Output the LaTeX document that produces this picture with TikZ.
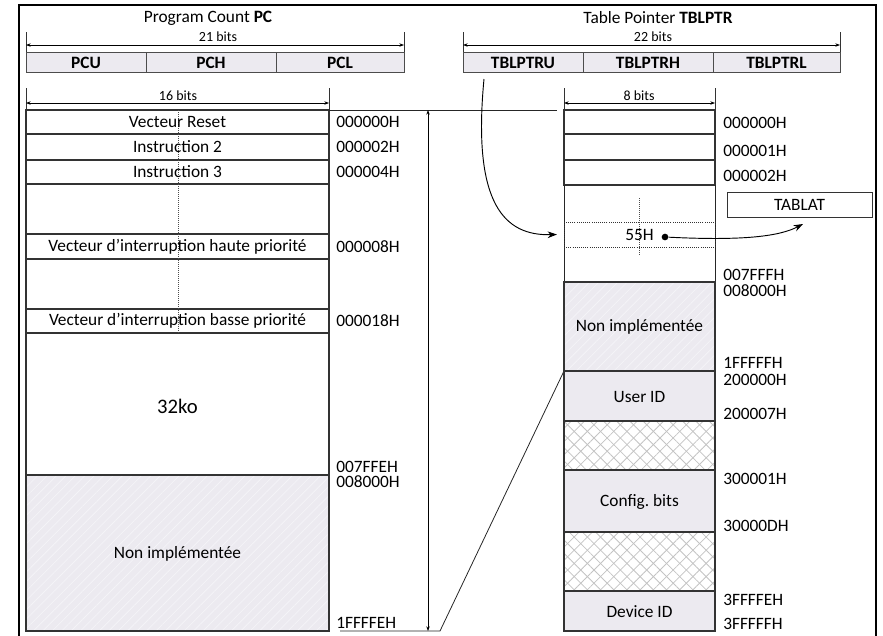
\documentclass[tikz,border=0pt]{standalone}
\usepackage{fontspec}
\setmainfont{Carlito}
\frenchspacing
\usetikzlibrary{arrows.meta,patterns.meta}
\definecolor{memgray}{RGB}{236,234,240}
\definecolor{stripecol}{RGB}{244,243,247}
\definecolor{hatchgray}{RGB}{195,195,195}
\begin{document}
\begin{tikzpicture}[x=0.75pt,y=-0.75pt,
  txt/.style={font=\fontsize{13}{15}\selectfont, inner sep=0pt},
  addr/.style={font=\fontsize{13}{15}\selectfont, inner sep=0pt, anchor=west},
  bitsl/.style={font=\fontsize{10.5}{12}\selectfont, inner sep=0pt},
  reg/.style={draw=black!70, fill=memgray, line width=0.6pt, minimum height=15pt, inner sep=0pt, font=\fontsize{13}{15}\selectfont\bfseries},
  cellline/.style={draw=black!80, line width=0.9pt},
  thinline/.style={draw=black!85, line width=0.6pt},
  dimline/.style={line width=0.5pt, {Stealth[length=3.5pt,width=2.6pt]}-{Stealth[length=3.5pt,width=2.6pt]}},
  ticks/.style={line width=0.6pt, black!80},
  bigarrow/.style={line width=0.7pt, -{Stealth[length=7pt,width=5pt]}},
  stripes/.style={pattern={Lines[angle=45,distance=5pt,line width=0.6pt]}, pattern color=stripecol},
  hatchA/.style={pattern={Lines[angle=45,distance=7pt,line width=0.6pt]}, pattern color=hatchgray},
  hatchB/.style={pattern={Lines[angle=-45,distance=7pt,line width=0.6pt]}, pattern color=hatchgray},
  dotl/.style={densely dotted, line width=0.5pt, black!70}
]
\useasboundingbox (0,0) rectangle (883,636);
% outer frame
\draw[line width=2pt] (19,640) -- (19,5) -- (876,5) -- (876,640);

% ===== header left
\node[txt] (pctitle) at (208,18) {Program Count \textbf{PC}};
\draw[ticks] (26,32) -- (26,52);
\draw[ticks] (404,32) -- (404,52);
\draw[dimline] (26,45) -- (404,45);
\node[bitsl] (b21) at (218,37) {21 bits};
\node[reg, minimum width=90pt] (pcu) at (86,62.5) {PCU};
\node[reg, minimum width=97.5pt] (pch) at (211,62.5) {PCH};
\node[reg, minimum width=96pt] (pcl) at (340,62.5) {PCL};

% ===== header right
\node[txt] (tptitle) at (658,18) {Table Pointer \textbf{TBLPTR}};
\draw[ticks] (463,32) -- (463,52);
\draw[ticks] (840,32) -- (840,52);
\draw[dimline] (463,45) -- (840,45);
\node[bitsl] (b22) at (653,37) {22 bits};
\node[reg, minimum width=90pt] (tblu) at (523,62.5) {TBLPTRU};
\node[reg, minimum width=97.5pt] (tblh) at (648,62.5) {TBLPTRH};
\node[reg, minimum width=95.25pt] (tbll) at (776.5,62.5) {TBLPTRL};

% ===== 16 bits / 8 bits
\draw[ticks] (26,88) -- (26,110);
\draw[ticks] (329,88) -- (329,110);
\draw[dimline] (26,103) -- (329,103);
\node[bitsl] (b16) at (178,96) {16 bits};
\draw[ticks] (564,88) -- (564,110);
\draw[ticks] (715,88) -- (715,110);
\draw[dimline] (564,103) -- (715,103);
\node[bitsl] (b8) at (639,96) {8 bits};

% ===== left memory column
\fill[memgray] (26,475) rectangle (329,631);
\path[stripes] (26,475) rectangle (329,631);
\draw[cellline] (26,110) rectangle (329,134);
\draw[cellline] (26,134) rectangle (329,160);
\draw[cellline] (26,160) rectangle (329,184);
\draw[cellline] (26,184) rectangle (329,234);
\draw[cellline] (26,234) rectangle (329,259);
\draw[cellline] (26,259) rectangle (329,309);
\draw[cellline] (26,309) rectangle (329,333);
\draw[cellline] (26,333) rectangle (329,475);
\draw[cellline] (26,475) rectangle (329,631);
\draw[dotl] (178,110) -- (178,333);
\node[txt] (vr) at (177.5,122) {Vecteur Reset};
\node[txt] (i2) at (177.5,147) {Instruction 2};
\node[txt] (i3) at (177.5,172) {Instruction 3};
\node[txt] (vh) at (177.5,246.5) {Vecteur d’interruption haute priorité};
\node[txt] (vb) at (177.5,321) {Vecteur d’interruption basse priorité};
\node[font=\fontsize{15.5}{18}\selectfont, inner sep=0pt] (k32) at (177.5,406) {32ko};
\node[txt] (nil) at (177.5,554) {Non implémentée};

\node[addr] (a0) at (336,122) {000000H};
\node[addr] (a2) at (336,147) {000002H};
\node[addr] (a4) at (336,172) {000004H};
\node[addr] (a8) at (336,246.5) {000008H};
\node[addr] (a18) at (336,321) {000018H};
\node[addr] (a7ffe) at (336,467) {007FFEH};
\node[addr] (a8000) at (336,482) {008000H};
\node[addr] (a1fffe) at (336,623) {1FFFFEH};

% range arrow and link lines
\draw[thinline] (329,110) -- (557,110);
\coordinate (rtop) at (428,110);
\coordinate (rbot) at (428,631);
\draw[dimline] (rtop) -- (rbot);
\coordinate (bl) at (340,631);
\coordinate (br) at (440,631);
\coordinate (uid) at (564,371);
\draw[thinline] (bl) -- (br) -- (uid);

% ===== right memory column
\fill[memgray] (564,282) rectangle (715,421);
\fill[memgray] (564,470) rectangle (715,532);
\fill[memgray] (564,591) rectangle (715,631);
\path[stripes] (564,282) rectangle (715,371);
\path[hatchA] (564,421) rectangle (715,470);
\path[hatchB] (564,421) rectangle (715,470);
\path[hatchA] (564,532) rectangle (715,591);
\path[hatchB] (564,532) rectangle (715,591);
\draw[cellline] (564,110) rectangle (715,134);
\draw[cellline] (564,134) rectangle (715,160);
\draw[cellline] (564,160) rectangle (715,185);
\draw[thinline] (564,185) -- (564,282);
\draw[thinline] (715,185) -- (715,282);
\draw[cellline] (564,282) rectangle (715,371);
\draw[cellline] (564,371) rectangle (715,421);
\draw[cellline] (564,421) rectangle (715,470);
\draw[cellline] (564,470) rectangle (715,532);
\draw[cellline] (564,532) rectangle (715,591);
\draw[cellline] (564,591) rectangle (715,631);
\draw[dotl] (639,198) -- (639,255);
\node[draw=black!80, densely dotted, line width=0.6pt, minimum width=113.25pt, minimum height=18.75pt, inner sep=0pt, font=\fontsize{13}{15}\selectfont] (cell55) at (639.5,234.5) {55H};
\node[circle, fill=black, inner sep=0pt, minimum size=5pt] (dot) at (665,237) {};
\node[txt] (nir) at (639.5,327) {Non implémentée};
\node[txt] (userid) at (639.5,397) {User ID};
\node[txt] (cfg) at (639.5,502) {Config. bits};
\node[txt] (devid) at (639.5,612) {Device ID};

\node[addr] (r0) at (723,123) {000000H};
\node[addr] (r1) at (723,151) {000001H};
\node[addr] (r2) at (723,176) {000002H};
\node[addr] (r7fff) at (723,275) {007FFFH};
\node[addr] (r8000) at (723,291) {008000H};
\node[addr] (r1ffff) at (723,363) {1FFFFFH};
\node[addr] (r20000) at (723,380) {200000H};
\node[addr] (r20007) at (723,414) {200007H};
\node[addr] (r30001) at (723,479) {300001H};
\node[addr] (r3000d) at (723,526) {30000DH};
\node[addr] (r3fffe) at (723,600) {3FFFFEH};
\node[addr] (r3ffff) at (723,624) {3FFFFFH};

% TABLAT
\node[draw=black!80, line width=0.6pt, minimum width=108.75pt, minimum height=18.75pt, inner sep=0pt, font=\fontsize{13}{15}\selectfont] (tablat) at (799.5,204.5) {TABLAT};
\coordinate (tabin) at (803,224);
\draw[bigarrow] (dot) .. controls (745,241) and (780,236) .. (tabin);

% TBLPTRU to 55H
\coordinate (ustart) at (484,79);
\draw[bigarrow] (ustart) .. controls (472,205) and (505,236) .. ([xshift=-5pt]cell55.west);
\end{tikzpicture}
\end{document}
